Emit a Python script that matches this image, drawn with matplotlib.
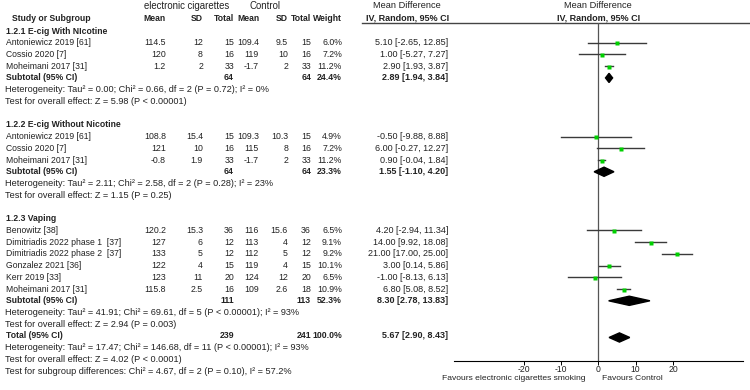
import matplotlib.pyplot as plt
from matplotlib.patches import Polygon

plt.rcParams['font.family'] = ['Liberation Sans', 'DejaVu Sans']
plt.rcParams['axes.unicode_minus'] = False

# ---- data ----
group_names = ['1.2.1 E-cig With NIcotine', '1.2.2 E-cig Without Nicotine', '1.2.3 Vaping']
group_of = [0, 0, 0, 1, 1, 1, 2, 2, 2, 2, 2, 2]
studies = ['Antoniewicz 2019 [61]', 'Cossio 2020 [7]', 'Moheimani 2017 [31]',
           'Antoniewicz 2019 [61]', 'Cossio 2020 [7]', 'Moheimani 2017 [31]',
           'Benowitz [38]', 'Dimitriadis 2022 phase 1  [37]', 'Dimitriadis 2022 phase 2  [37]',
           'Gonzalez 2021 [36]', 'Kerr 2019 [33]', 'Moheimani 2017 [31]']
ecig_mean = [114.5, 120, 1.2, 108.8, 121, -0.8, 120.2, 127, 133, 122, 123, 115.8]
ecig_sd = [12, 8, 2, 15.4, 10, 1.9, 15.3, 6, 5, 4, 11, 2.5]
ecig_n = [15, 16, 33, 15, 16, 33, 36, 12, 12, 15, 20, 16]
ctrl_mean = [109.4, 119, -1.7, 109.3, 115, -1.7, 116, 113, 112, 119, 124, 109]
ctrl_sd = [9.5, 10, 2, 10.3, 8, 2, 15.6, 4, 5, 4, 12, 2.6]
ctrl_n = [15, 16, 33, 15, 16, 33, 36, 12, 12, 15, 20, 18]
weight = [6.0, 7.2, 11.2, 4.9, 7.2, 11.2, 6.5, 9.1, 9.2, 10.1, 6.5, 10.9]
md = [5.10, 1.00, 2.90, -0.50, 6.00, 0.90, 4.20, 14.00, 21.00, 3.00, -1.00, 6.80]
md_lo = [-2.65, -5.27, 1.93, -9.88, -0.27, -0.04, -2.94, 9.92, 17.00, 0.14, -8.13, 5.08]
md_hi = [12.85, 7.27, 3.87, 8.88, 12.27, 1.84, 11.34, 18.08, 25.00, 5.86, 6.13, 8.52]

sub_ecig_n = [64, 64, 111]
sub_ctrl_n = [64, 64, 113]
sub_weight = [24.4, 23.3, 52.3]
sub_md = [2.89, 1.55, 8.30]
sub_lo = [1.94, -1.10, 2.78]
sub_hi = [3.84, 4.20, 13.83]
sub_het = ['Heterogeneity: Tau² = 0.00; Chi² = 0.66, df = 2 (P = 0.72); I² = 0%',
           'Heterogeneity: Tau² = 2.11; Chi² = 2.58, df = 2 (P = 0.28); I² = 23%',
           'Heterogeneity: Tau² = 41.91; Chi² = 69.61, df = 5 (P < 0.00001); I² = 93%']
sub_test = ['Test for overall effect: Z = 5.98 (P < 0.00001)',
            'Test for overall effect: Z = 1.15 (P = 0.25)',
            'Test for overall effect: Z = 2.94 (P = 0.003)']

total_ecig_n, total_ctrl_n, total_weight = 239, 241, 100.0
total_md, total_lo, total_hi = 5.67, 2.90, 8.43
total_notes = ['Heterogeneity: Tau² = 17.47; Chi² = 146.68, df = 11 (P < 0.00001); I² = 93%',
               'Test for overall effect: Z = 4.02 (P < 0.0001)',
               'Test for subgroup differences: Chi² = 4.67, df = 2 (P = 0.10), I² = 57.2%']

xticks = [-20, -10, 0, 10, 20]

# ---- layout (pixels) ----
W, H = 750, 390
fs_name, fs_num, fs_note, fs_md = 6.2, 6.3, 6.6, 6.5
tc = '#222222'
col_x = [166, 203, 234, 259, 288, 311, 342, 448]   # right edges of number columns
ax0, ax1, ay_top, ay_bot = 454, 742.5, 23.3, 360.5


def row_y(i):
    return 31 + 11.73 * i


def fmt_md(m, lo, hi):
    return '%.2f [%.2f, %.2f]' % (m, lo, hi)


fig = plt.figure(figsize=(W / 100, H / 100), dpi=100)
ax = fig.add_axes([0, 0, 1, 1])
ax.set_xlim(0, W)
ax.set_ylim(H, 0)
ax.axis('off')

fa = fig.add_axes([ax0 / W, (H - ay_bot) / H, (ax1 - ax0) / W, (ay_bot - ay_top) / H])
fa.set_xlim(-38.6, 38.6)
fa.set_ylim(ay_bot, ay_top)
fa.patch.set_alpha(0)
for s in ['top', 'left', 'right']:
    fa.spines[s].set_visible(False)
fa.spines['bottom'].set_linewidth(0.8)
fa.set_yticks([])
fa.set_xticks(xticks)
fa.tick_params(axis='x', length=3, width=0.7, pad=0.5, labelsize=6.2, labelcolor=tc)
fa.axvline(0, color='#555555', lw=0.9, zorder=1)


def txt(x, y, s, ha='left', bold=False, size=fs_name):
    ax.text(x, y, s, ha=ha, va='center', fontsize=size, color=tc,
            fontweight='bold' if bold else 'normal')


# headers
txt(187, 6, 'electronic cigarettes', ha='center', size=6.9)
txt(265, 6, 'Control', ha='center', size=6.9)
txt(407, 6, 'Mean Difference', ha='center', size=6.7)
txt(598.3, 6, 'Mean Difference', ha='center', size=6.7)
hdr = ['Mean', 'SD', 'Total', 'Mean', 'SD', 'Total', 'Weight']
txt(12, 18.5, 'Study or Subgroup', bold=True, size=6.2)
for x, h in zip(col_x[:7], hdr):
    txt(x, 18.5, h, ha='right', bold=True, size=6.2)
txt(408, 18.5, 'IV, Random, 95% CI', ha='center', bold=True, size=6.5)
txt(598.3, 18.5, 'IV, Random, 95% CI', ha='center', bold=True, size=6.5)
ax.plot([362, W], [ay_top, ay_top], color='#444444', lw=1)


def diamond(m, lo, hi, y):
    h = 4.6
    fa.add_patch(Polygon([(lo, y), (m, y - h), (hi, y), (m, y + h)],
                         closed=True, color='black', zorder=3))


r = 0
for g, gname in enumerate(group_names):
    txt(6, row_y(r), gname, bold=True)
    r += 1
    for i in [k for k, gg in enumerate(group_of) if gg == g]:
        y = row_y(r)
        txt(6, y, studies[i])
        vals = ['%g' % ecig_mean[i], '%g' % ecig_sd[i], '%d' % ecig_n[i],
                '%g' % ctrl_mean[i], '%g' % ctrl_sd[i], '%d' % ctrl_n[i],
                '%.1f%%' % weight[i]]
        for x, v in zip(col_x, vals):
            txt(x, y, v, ha='right', size=fs_num)
        txt(col_x[7], y, fmt_md(md[i], md_lo[i], md_hi[i]), ha='right', size=fs_md)
        fa.plot([md_lo[i], md_hi[i]], [y, y], color='#3a3a3a', lw=1.0, zorder=2)
        fa.plot(md[i], y + 0.6, 's', color='#00d000', mec='none',
                ms=2.0 + 0.05 * weight[i], zorder=3)
        r += 1
    y = row_y(r)
    txt(6, y, 'Subtotal (95% CI)', bold=True)
    txt(col_x[2], y, '%d' % sub_ecig_n[g], ha='right', bold=True, size=fs_num)
    txt(col_x[5], y, '%d' % sub_ctrl_n[g], ha='right', bold=True, size=fs_num)
    txt(col_x[6], y, '%.1f%%' % sub_weight[g], ha='right', bold=True, size=fs_num)
    txt(col_x[7], y, fmt_md(sub_md[g], sub_lo[g], sub_hi[g]), ha='right', bold=True, size=fs_md)
    diamond(sub_md[g], sub_lo[g], sub_hi[g], y)
    r += 1
    txt(5, row_y(r), sub_het[g], size=fs_note)
    r += 1
    txt(5, row_y(r), sub_test[g], size=fs_note)
    r += 2

r -= 1
y = row_y(r)
txt(6, y, 'Total (95% CI)', bold=True)
txt(col_x[2], y, '%d' % total_ecig_n, ha='right', bold=True, size=fs_num)
txt(col_x[5], y, '%d' % total_ctrl_n, ha='right', bold=True, size=fs_num)
txt(col_x[6], y, '%.1f%%' % total_weight, ha='right', bold=True, size=fs_num)
txt(col_x[7], y, fmt_md(total_md, total_lo, total_hi), ha='right', bold=True, size=fs_md)
diamond(total_md, total_lo, total_hi, y + 1.5)
for note in total_notes:
    r += 1
    txt(5, row_y(r), note, size=fs_note)

txt(585, 378.5, 'Favours electronic cigarettes smoking', ha='right', size=6.1)
txt(602, 378.5, 'Favours Control', size=6.1)

fig.savefig('out.png', dpi=100)
